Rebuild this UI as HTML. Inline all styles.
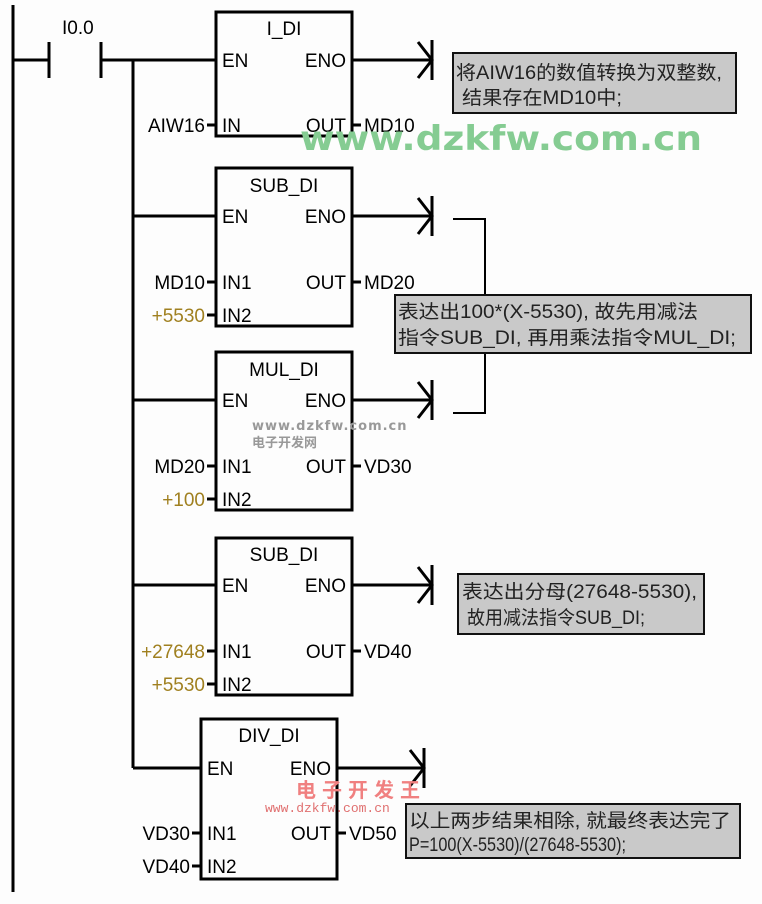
<!DOCTYPE html>
<html><head><meta charset="utf-8"><style>
html,body{margin:0;padding:0;background:#fff}
svg{display:block}
text{font-family:"Liberation Sans Narrow","Liberation Sans","Noto Sans CJK SC",sans-serif;font-size:19px;fill:#000}
.c{font-family:"Liberation Sans","Noto Sans CJK SC",sans-serif;font-size:19px;fill:#222}
.y{fill:#a08020}
</style></head><body>
<svg width="762" height="904" viewBox="0 0 762 904" xmlns="http://www.w3.org/2000/svg">
<rect width="762" height="904" fill="#fdfdfd"/>
<g stroke="#000" stroke-width="3" fill="none">
<line x1="13" y1="5" x2="13" y2="892"/>
<line x1="13" y1="60" x2="49" y2="60"/>
<line x1="49" y1="42" x2="49" y2="78"/>
<line x1="101" y1="42" x2="101" y2="78"/>
<line x1="101" y1="60" x2="216" y2="60"/>
<line x1="133" y1="60" x2="133" y2="768"/>
<line x1="133" y1="216" x2="216" y2="216"/>
<line x1="133" y1="400" x2="216" y2="400"/>
<line x1="133" y1="585" x2="216" y2="585"/>
<line x1="133" y1="768" x2="201" y2="768"/>
<rect x="216" y="12" width="136" height="124"/>
<rect x="216" y="168" width="136" height="158"/>
<rect x="216" y="352" width="136" height="158"/>
<rect x="216" y="538" width="136" height="157"/>
<rect x="201" y="719" width="136" height="160"/>
<path d="M352 60H432M418 42L432 60L418 78M432 40V80"/>
<path d="M352 216H432M418 198L432 216L418 234M432 196V236"/>
<path d="M352 400H432M418 382L432 400L418 418M432 380V420"/>
<path d="M352 585H432M418 567L432 585L418 603M432 565V605"/>
<path d="M337 768H424M410 750L424 768L410 786M424 748V788"/>
<path d="M453 219H485V413H453" stroke-width="2"/>
<path d="M207 125H216M352 125H361M207 282H216M207 315H216M352 282H361M207 466H216M207 499H216M352 466H361M207 651H216M207 684H216M352 651H361M192 833H201M192 866H201M337 833H346"/>
</g>
<text x="62" y="34">I0.0</text>
<g text-anchor="middle">
<text x="284" y="35">I_DI</text>
<text x="284" y="192">SUB_DI</text>
<text x="284" y="376">MUL_DI</text>
<text x="284" y="561">SUB_DI</text>
<text x="269" y="742">DIV_DI</text>
</g>
<text x="222" y="67">EN</text><text x="346" y="67" text-anchor="end">ENO</text>
<text x="222" y="132">IN</text><text x="346" y="132" text-anchor="end">OUT</text>
<text x="222" y="223">EN</text><text x="346" y="223" text-anchor="end">ENO</text>
<text x="222" y="289">IN1</text><text x="346" y="289" text-anchor="end">OUT</text>
<text x="222" y="322">IN2</text>
<text x="222" y="407">EN</text><text x="346" y="407" text-anchor="end">ENO</text>
<text x="222" y="473">IN1</text><text x="346" y="473" text-anchor="end">OUT</text>
<text x="222" y="506">IN2</text>
<text x="222" y="592">EN</text><text x="346" y="592" text-anchor="end">ENO</text>
<text x="222" y="658">IN1</text><text x="346" y="658" text-anchor="end">OUT</text>
<text x="222" y="691">IN2</text>
<text x="207" y="775">EN</text><text x="331" y="775" text-anchor="end">ENO</text>
<text x="207" y="840">IN1</text><text x="331" y="840" text-anchor="end">OUT</text>
<text x="207" y="873">IN2</text>
<g text-anchor="end">
<text x="205" y="132">AIW16</text>
<text x="205" y="289">MD10</text>
<text x="205" y="322" class="y">+5530</text>
<text x="205" y="473">MD20</text>
<text x="205" y="506" class="y">+100</text>
<text x="205" y="658" class="y">+27648</text>
<text x="205" y="691" class="y">+5530</text>
<text x="190" y="840">VD30</text>
<text x="190" y="873">VD40</text>
</g>
<text x="364" y="132">MD10</text>
<text x="364" y="289">MD20</text>
<text x="364" y="473">VD30</text>
<text x="364" y="658">VD40</text>
<text x="349" y="840">VD50</text>
<g stroke="#111" stroke-width="2" fill="#c9c9c9">
<rect x="453" y="53" width="283" height="60"/>
<rect x="395" y="295" width="356" height="58"/>
<rect x="458" y="574" width="246" height="60"/>
<rect x="406" y="804" width="334" height="54"/>
</g>
<text class="c" x="456" y="79" textLength="266" lengthAdjust="spacingAndGlyphs">将AIW16的数值转换为双整数,</text>
<text class="c" x="462" y="104" textLength="160" lengthAdjust="spacingAndGlyphs">结果存在MD10中;</text>
<text class="c" x="398" y="318" textLength="300" lengthAdjust="spacingAndGlyphs">表达出100*(X-5530), 故先用减法</text>
<text class="c" x="398" y="344" textLength="338" lengthAdjust="spacingAndGlyphs">指令SUB_DI, 再用乘法指令MUL_DI;</text>
<text class="c" x="462" y="598" textLength="235" lengthAdjust="spacingAndGlyphs">表达出分母(27648-5530),</text>
<text class="c" x="467" y="624" textLength="178" lengthAdjust="spacingAndGlyphs">故用减法指令SUB_DI;</text>
<text class="c" x="409" y="827" textLength="322" lengthAdjust="spacingAndGlyphs">以上两步结果相除, 就最终表达完了</text>
<text class="c" x="409" y="851" textLength="217" lengthAdjust="spacingAndGlyphs">P=100(X-5530)/(27648-5530);</text>
<text x="300" y="150" textLength="402" lengthAdjust="spacingAndGlyphs" style="font-family:'DejaVu Sans',sans-serif;font-weight:bold;font-size:34px;fill:#85cc92">www.dzkfw.com.cn</text>
<text x="252" y="430" style="font-family:'DejaVu Sans',sans-serif;font-weight:bold;font-size:13px;fill:#999;letter-spacing:1px">www.dzkfw.com.cn</text>
<text x="252" y="447" style="font-family:'Noto Sans CJK SC',sans-serif;font-weight:bold;font-size:13px;fill:#999">电子开发网</text>
<text x="296" y="797" style="font-family:'Noto Sans CJK SC',sans-serif;font-weight:bold;font-size:20px;fill:#f08080;letter-spacing:6px">电子开发王</text>
<text x="265" y="812" style="font-family:'Liberation Mono',monospace;font-size:13px;fill:#e07070">www.dzkfw.com.cn</text>
</svg>
</body></html>
